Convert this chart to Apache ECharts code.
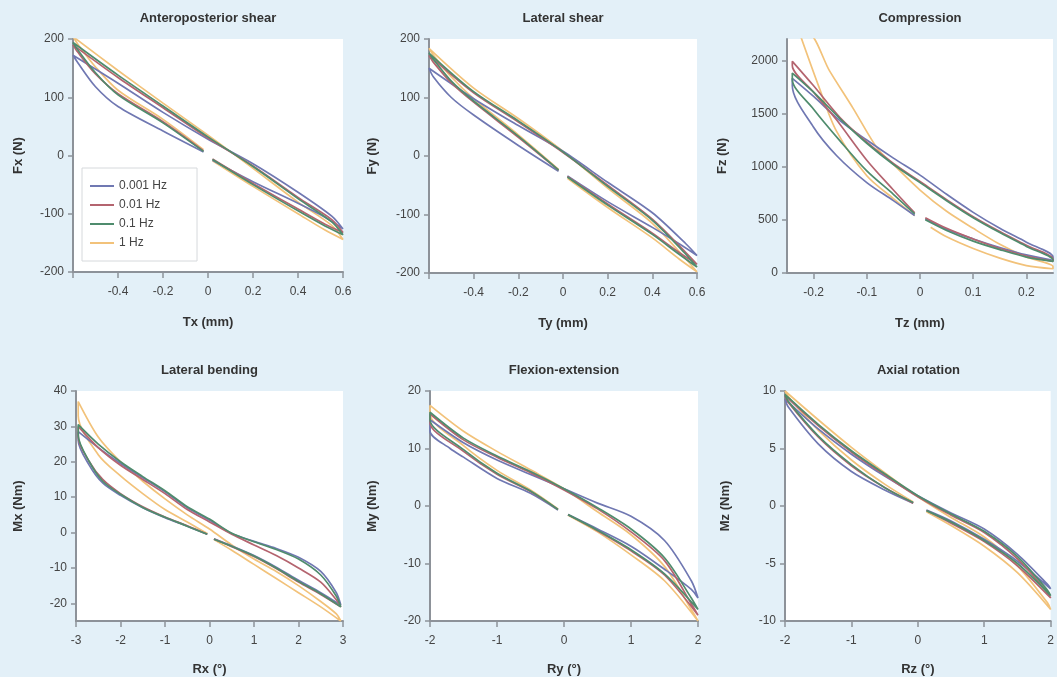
<!DOCTYPE html>
<html>
<head>
<meta charset="utf-8">
<script src="https://cdn.jsdelivr.net/npm/echarts@6/dist/echarts.min.js"></script>
<style>
html, body { margin: 0; padding: 0; background: #e3f0f8; }
#canvas { width: 1057px; height: 677px; }
</style>
</head>
<body>
<div id="canvas"></div>
<script>
var freqNames = ['0.001 Hz', '0.01 Hz', '0.1 Hz', '1 Hz'];
var freqColors = ['#7078b2', '#b4646f', '#4f8c6d', '#f2c27a'];

var titles = ['Anteroposterior shear', 'Lateral shear', 'Compression', 'Lateral bending', 'Flexion-extension', 'Axial rotation'];
var xNames = ['Tx (mm)', 'Ty (mm)', 'Tz (mm)', 'Rx (°)', 'Ry (°)', 'Rz (°)'];
var yNames = ['Fx (N)', 'Fy (N)', 'Fz (N)', 'Mx (Nm)', 'My (Nm)', 'Mz (Nm)'];

var xMin = [-0.6, -0.6, -0.25, -3, -2, -2];
var xMax = [0.6, 0.6, 0.25, 3, 2, 2];
var yMin = [-200, -200, 0, -25, -20, -10];
var yMax = [200, 200, 2200, 40, 20, 10];

var xTicks = [
    [-0.6, -0.4, -0.2, 0, 0.2, 0.4, 0.6],
    [-0.6, -0.4, -0.2, 0, 0.2, 0.4, 0.6],
    [-0.2, -0.1, 0, 0.1, 0.2],
    [-3, -2, -1, 0, 1, 2, 3],
    [-2, -1, 0, 1, 2],
    [-2, -1, 0, 1, 2]
];
var xLabels = [
    [-0.4, -0.2, 0, 0.2, 0.4, 0.6],
    [-0.4, -0.2, 0, 0.2, 0.4, 0.6],
    [-0.2, -0.1, 0, 0.1, 0.2],
    [-3, -2, -1, 0, 1, 2, 3],
    [-2, -1, 0, 1, 2],
    [-2, -1, 0, 1, 2]
];
var yTicks = [
    [-200, -100, 0, 100, 200],
    [-200, -100, 0, 100, 200],
    [0, 500, 1000, 1500, 2000],
    [-20, -10, 0, 10, 20, 30, 40],
    [-20, -10, 0, 10, 20],
    [-10, -5, 0, 5, 10]
];

// hysteresis loops, one per frequency: 0.001, 0.01, 0.1, 1 Hz
var apShear = [
    [[0.02,-8],[0.2,-45],[0.4,-82],[0.52,-106],[0.6,-126],[0.55,-104],[0.4,-63],[0.2,-14],[0,28],[-0.2,74],[-0.4,124],[-0.6,172],[-0.58,160],[-0.5,118],[-0.4,84],[-0.2,42],[-0.02,6]],
    [[0.02,-6],[0.2,-48],[0.4,-92],[0.52,-118],[0.6,-132],[0.55,-110],[0.4,-72],[0.2,-18],[0,30],[-0.2,82],[-0.4,134],[-0.6,190],[-0.58,178],[-0.5,140],[-0.4,106],[-0.2,58],[-0.02,8]],
    [[0.02,-7],[0.2,-50],[0.4,-95],[0.52,-121],[0.6,-136],[0.55,-114],[0.4,-74],[0.2,-19],[0,32],[-0.2,85],[-0.4,138],[-0.6,194],[-0.58,182],[-0.5,142],[-0.4,104],[-0.2,56],[-0.02,7]],
    [[0.02,-9],[0.2,-53],[0.4,-100],[0.52,-128],[0.6,-144],[0.55,-120],[0.4,-80],[0.2,-22],[0,35],[-0.2,90],[-0.4,146],[-0.6,204],[-0.58,192],[-0.5,152],[-0.4,112],[-0.2,62],[-0.02,10]]
];
var latShear = [
    [[0.02,-34],[0.2,-78],[0.4,-122],[0.52,-150],[0.6,-170],[0.55,-150],[0.4,-97],[0.2,-45],[0,8],[-0.2,52],[-0.4,98],[-0.6,150],[-0.58,135],[-0.5,100],[-0.4,70],[-0.2,18],[-0.02,-26]],
    [[0.02,-35],[0.2,-82],[0.4,-132],[0.52,-165],[0.6,-185],[0.55,-165],[0.4,-108],[0.2,-50],[0,6],[-0.2,58],[-0.4,108],[-0.6,172],[-0.58,160],[-0.5,125],[-0.4,92],[-0.2,32],[-0.02,-24]],
    [[0.02,-36],[0.2,-84],[0.4,-134],[0.52,-168],[0.6,-190],[0.55,-168],[0.4,-110],[0.2,-52],[0,7],[-0.2,60],[-0.4,110],[-0.6,176],[-0.58,165],[-0.5,128],[-0.4,94],[-0.2,34],[-0.02,-24]],
    [[0.02,-38],[0.2,-88],[0.4,-140],[0.52,-176],[0.6,-198],[0.55,-176],[0.4,-115],[0.2,-55],[0,8],[-0.2,64],[-0.4,116],[-0.6,184],[-0.58,172],[-0.5,135],[-0.4,98],[-0.2,36],[-0.02,-23]]
];
var compression = [
    [[0.01,510],[0.05,410],[0.1,320],[0.15,240],[0.2,170],[0.25,120],[0.25,150],[0.2,290],[0.15,420],[0.1,570],[0.05,740],[0,920],[-0.05,1080],[-0.1,1250],[-0.15,1430],[-0.2,1660],[-0.24,1830],[-0.24,1760],[-0.2,1370],[-0.157,1105],[-0.1,850],[-0.05,680],[-0.01,540]],
    [[0.01,520],[0.05,420],[0.1,320],[0.15,230],[0.2,160],[0.25,110],[0.25,130],[0.2,260],[0.15,390],[0.1,530],[0.05,690],[0,860],[-0.05,1030],[-0.1,1230],[-0.15,1460],[-0.2,1760],[-0.24,1990],[-0.24,1950],[-0.2,1700],[-0.157,1440],[-0.1,1060],[-0.05,780],[-0.01,565]],
    [[0.01,500],[0.05,400],[0.1,300],[0.15,220],[0.2,150],[0.25,110],[0.25,120],[0.2,250],[0.15,380],[0.1,520],[0.05,680],[0,850],[-0.05,1020],[-0.1,1220],[-0.15,1450],[-0.2,1700],[-0.24,1880],[-0.24,1820],[-0.2,1540],[-0.15,1240],[-0.1,960],[-0.05,740],[-0.01,555]],
    [[0.02,430],[0.05,340],[0.1,230],[0.15,140],[0.2,70],[0.25,40],[0.25,60],[0.2,150],[0.15,270],[0.1,420],[0.05,580],[0,780],[-0.05,1020],[-0.08,1170],[-0.126,1550],[-0.17,1900],[-0.21,2250],[-0.226,2250],[-0.19,1750],[-0.157,1333],[-0.1,914],[-0.05,700],[-0.01,540]]
];
var latBend = [
    [[0.1,-1.8],[0.5,-3.8],[1,-6.5],[1.5,-9.8],[2,-13.5],[2.5,-17],[2.95,-20.5],[2.85,-17],[2.5,-11],[2,-7],[1.5,-4.5],[1,-2.5],[0.5,-0.3],[0,3.5],[-0.5,7],[-1,11.5],[-1.5,15.5],[-2,19.5],[-2.5,24],[-2.95,28.5],[-2.95,26],[-2.7,19],[-2.4,14],[-2,10.5],[-1.5,7],[-1,4.2],[-0.5,1.8],[-0.05,-0.5]],
    [[0.1,-1.8],[0.5,-4],[1,-6.8],[1.5,-10.2],[2,-14],[2.5,-17.5],[2.95,-21],[2.85,-19],[2.5,-14],[2,-10],[1.5,-6.5],[1,-3.5],[0.5,-0.5],[0,3],[-0.5,6.5],[-1,11],[-1.5,15],[-2,19],[-2.5,24],[-2.95,30],[-2.95,27],[-2.7,20],[-2.4,15],[-2,11],[-1.5,7.3],[-1,4.4],[-0.5,1.9],[-0.05,-0.5]],
    [[0.1,-1.9],[0.5,-3.9],[1,-6.6],[1.5,-10],[2,-13.8],[2.5,-17.3],[2.95,-21],[2.85,-18],[2.5,-12],[2,-7.5],[1.5,-4.8],[1,-2.6],[0.5,-0.2],[0,3.8],[-0.5,7.3],[-1,11.8],[-1.5,15.8],[-2,20],[-2.5,25],[-2.95,30.5],[-2.95,27.5],[-2.7,20],[-2.4,14.5],[-2,10.8],[-1.5,7.1],[-1,4.3],[-0.5,1.8],[-0.05,-0.5]],
    [[0.1,-2],[0.5,-5],[1,-9],[1.5,-13],[2,-17],[2.5,-21],[2.95,-25],[2.85,-23],[2.5,-19.5],[2,-15],[1.5,-11],[1,-7.5],[0.5,-3.5],[0,1],[-0.5,5],[-1,9.5],[-1.5,14.5],[-2,20],[-2.5,27],[-2.95,37],[-2.95,33],[-2.5,22],[-2,16],[-1.5,11],[-1,6.5],[-0.5,3],[-0.05,-0.3]]
];
var flexExt = [
    [[0.06,-1.5],[0.5,-4],[1,-7],[1.5,-11],[1.9,-14.5],[2,-16],[1.9,-13],[1.5,-6],[1,-1.8],[0.5,0.5],[0,3],[-0.5,5.5],[-1,8],[-1.5,11],[-2,15],[-2,13],[-1.7,10],[-1.5,8.5],[-1,4.8],[-0.5,2.2],[-0.09,-0.7]],
    [[0.06,-1.5],[0.5,-4.3],[1,-7.8],[1.5,-12],[2,-19],[1.9,-17],[1.5,-9.5],[1,-4.5],[0.5,-0.5],[0,2.8],[-0.5,5.8],[-1,8.5],[-1.5,11.5],[-2,16],[-2,14.5],[-1.5,9.5],[-1,5.5],[-0.5,2.5],[-0.09,-0.6]],
    [[0.06,-1.5],[0.5,-4.2],[1,-7.6],[1.5,-11.8],[2,-18],[1.9,-16],[1.5,-9],[1,-4],[0.5,-0.3],[0,3],[-0.5,6],[-1,8.7],[-1.5,11.8],[-2,16.3],[-2,15],[-1.5,9.8],[-1,5.7],[-0.5,2.6],[-0.09,-0.6]],
    [[0.06,-1.6],[0.5,-4.5],[1,-8.5],[1.5,-13],[2,-20],[1.9,-18],[1.5,-10.5],[1,-5],[0.5,-1],[0,3],[-0.5,6.3],[-1,9.5],[-1.5,13],[-2,17.5],[-2,16],[-1.5,10.5],[-1,6.2],[-0.5,2.8],[-0.09,-0.5]]
];
var axialRot = [
    [[0.13,-0.35],[0.5,-1.3],[1,-2.9],[1.5,-4.8],[2,-7.2],[1.95,-6.8],[1.5,-4.2],[1,-2],[0.5,-0.6],[0,0.9],[-0.5,2.6],[-1,4.5],[-1.5,6.7],[-2,9.3],[-1.95,8.6],[-1.5,5.4],[-1,3],[-0.5,1.4],[-0.07,0.25]],
    [[0.13,-0.4],[0.5,-1.5],[1,-3.1],[1.5,-5.2],[2,-8],[1.95,-7.5],[1.5,-4.6],[1,-2.3],[0.5,-0.8],[0,0.8],[-0.5,2.7],[-1,4.7],[-1.5,7],[-2,9.6],[-1.95,9],[-1.5,6],[-1,3.5],[-0.5,1.6],[-0.07,0.25]],
    [[0.13,-0.4],[0.5,-1.4],[1,-3],[1.5,-5],[2,-7.8],[1.95,-7.3],[1.5,-4.4],[1,-2.2],[0.5,-0.7],[0,0.9],[-0.5,2.8],[-1,4.8],[-1.5,7.1],[-2,9.7],[-1.95,9.1],[-1.5,6.1],[-1,3.6],[-0.5,1.6],[-0.07,0.3]],
    [[0.13,-0.5],[0.5,-1.7],[1,-3.5],[1.5,-5.8],[2,-9],[1.95,-8.4],[1.5,-5.2],[1,-2.7],[0.5,-1],[0,0.8],[-0.5,2.9],[-1,5.1],[-1.5,7.5],[-2,10],[-1.95,9.5],[-1.5,6.6],[-1,4],[-0.5,1.9],[-0.07,0.35]]
];
var panels = [apShear, latShear, compression, latBend, flexExt, axialRot];

// layout of the six plots (px)
var gridLeft = [73, 429, 787, 76, 430, 785];
var gridTop = [39, 39, 39, 391, 391, 391];
var gridWidth = [270, 268, 266, 267, 268, 267];
var gridHeight = [233, 234, 234, 234, 234, 234];
var xNameGap = [44, 44, 44, 42, 42, 42];
var yNameGap = [48, 50, 58, 51, 51, 53];

var axisColor = '#8d9299';
var fontFamily = 'Liberation Sans, Arial, sans-serif';

var plainNumber = function(v) {
    return String(v);
};

var myChart = echarts.init(document.getElementById('canvas'));

var grids = [], xAxes = [], yAxes = [], series = [], graphics = [];
for (var i = 0; i < 6; i++) {
    grids.push({
        left: gridLeft[i], top: gridTop[i], width: gridWidth[i], height: gridHeight[i],
        show: true, backgroundColor: '#ffffff', borderWidth: 0
    });
    xAxes.push({
        type: 'value', gridIndex: i, min: xMin[i], max: xMax[i],
        name: xNames[i], nameLocation: 'middle', nameGap: xNameGap[i],
        nameTextStyle: {fontWeight: 'bold', fontSize: 13, color: '#333', fontFamily: fontFamily},
        axisLine: {show: true, onZero: false, lineStyle: {color: axisColor, width: 2}},
        axisTick: {show: true, length: 6, customValues: xTicks[i], lineStyle: {color: axisColor, width: 1.5}},
        axisLabel: {customValues: xLabels[i], formatter: plainNumber, color: '#444', fontSize: 12, margin: 14, fontFamily: fontFamily},
        splitLine: {show: false}
    });
    yAxes.push({
        type: 'value', gridIndex: i, min: yMin[i], max: yMax[i],
        name: yNames[i], nameLocation: 'middle', nameGap: yNameGap[i],
        nameTextStyle: {fontWeight: 'bold', fontSize: 13, color: '#333', fontFamily: fontFamily},
        axisLine: {show: true, onZero: false, lineStyle: {color: axisColor, width: 2}},
        axisTick: {show: true, length: 5, customValues: yTicks[i], lineStyle: {color: axisColor, width: 1.5}},
        axisLabel: {customValues: yTicks[i], formatter: plainNumber, color: '#444', fontSize: 12, margin: 9, fontFamily: fontFamily},
        splitLine: {show: false}
    });
    graphics.push({
        type: 'text',
        x: gridLeft[i] + gridWidth[i] / 2,
        y: gridTop[i] - 27,
        style: {text: titles[i], font: 'bold 13px ' + fontFamily, fill: '#333', textAlign: 'center'}
    });
    for (var k = 0; k < 4; k++) {
        series.push({
            name: freqNames[k], type: 'line',
            xAxisIndex: i, yAxisIndex: i,
            data: panels[i][k],
            smooth: 0.3, showSymbol: false, symbol: 'none',
            lineStyle: {width: 1.7, color: freqColors[k]},
            itemStyle: {color: freqColors[k]},
            z: k == 3 ? 1 : 2
        });
    }
}

var option = {
    animation: false,
    backgroundColor: '#e3f0f8',
    textStyle: {fontFamily: fontFamily},
    grid: grids,
    xAxis: xAxes,
    yAxis: yAxes,
    graphic: graphics,
    legend: {
        data: freqNames, orient: 'vertical', left: 82, top: 168,
        icon: 'rect', itemWidth: 24, itemHeight: 2, itemGap: 7,
        textStyle: {fontSize: 12, color: '#444', fontFamily: fontFamily},
        backgroundColor: '#ffffff', borderColor: '#d6d9dc', borderWidth: 1,
        padding: [12, 30, 12, 8]
    },
    series: series
};
myChart.setOption(option);
</script>
</body>
</html>
